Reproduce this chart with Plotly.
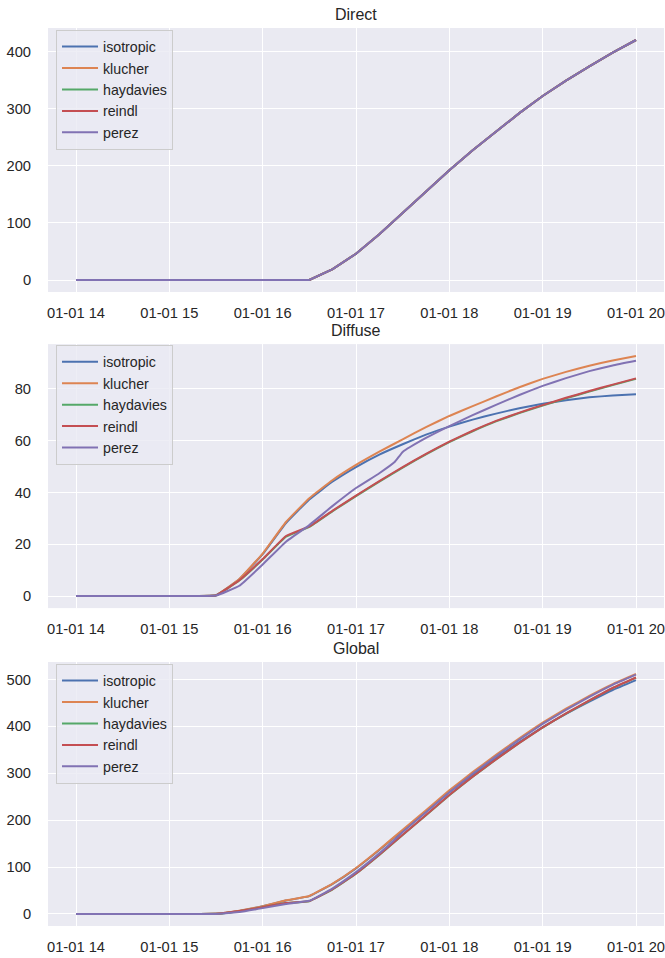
import plotly.graph_objects as go

# Sample times (15-minute steps) on 1 January
clock = ["14:00", "14:15", "14:30", "14:45", "15:00", "15:15", "15:30", "15:45",
         "16:00", "16:15", "16:30", "16:45", "17:00", "17:15", "17:30", "17:45",
         "18:00", "18:15", "18:30", "18:45", "19:00", "19:15", "19:30", "19:45", "20:00"]
# The perez series has one extra sample where its diffuse component jumps
perez_clock = clock[:14] + ["17:25"] + clock[14:]

models = ["isotropic", "klucher", "haydavies", "reindl", "perez"]
colors = ["#4C72B0", "#DD8452", "#55A868", "#C44E52", "#8172B3"]

# Direct (beam) component on the plane of array, identical for every model
direct = [0, 0, 0, 0, 0, 0, 0, 0, 0, 0, 0, 19, 46, 80, 117, 154,
          192, 227, 260, 292, 322, 349, 374, 398, 420]
direct_perez = [0, 0, 0, 0, 0, 0, 0, 0, 0, 0, 0, 19, 46, 80, 105, 117, 154,
                192, 227, 260, 292, 322, 349, 374, 398, 420]

# Sky diffuse component per transposition model
diffuse_isotropic = [0, 0, 0, 0, 0, 0, 0.3, 6.5, 16.2, 28.2, 37.3, 44.2, 49.8, 54.6,
                     58.6, 62.3, 65.4, 68.1, 70.4, 72.5, 74.2, 75.6, 76.7, 77.4, 77.9]
diffuse_klucher = [0, 0, 0, 0, 0, 0, 0.3, 6.6, 16.4, 28.6, 37.8, 44.8, 50.6, 55.7,
                   60.5, 65.2, 69.5, 73.3, 77.0, 80.6, 83.8, 86.5, 88.9, 90.9, 92.6]
diffuse_haydavies = [0, 0, 0, 0, 0, 0, 0.3, 6.0, 14.1, 22.9, 26.7, 32.8, 38.6, 44.2,
                     49.6, 54.7, 59.4, 63.6, 67.4, 70.6, 73.5, 76.3, 78.9, 81.4, 83.8]
diffuse_reindl = [0, 0, 0, 0, 0, 0, 0.3, 6.1, 14.3, 23.2, 26.9, 33.0, 38.8, 44.4,
                  49.8, 54.9, 59.6, 63.8, 67.6, 70.8, 73.7, 76.5, 79.1, 81.6, 84.0]
diffuse_perez = [0, 0, 0, 0, 0, 0, 0.2, 4.0, 12.2, 21.0, 27.4, 34.8, 41.7, 47.4,
                 51.8, 55.6, 61.0, 65.6, 69.8, 73.8, 77.6, 81.1, 84.1, 86.8, 89.0, 90.8]

# Global (total) irradiance on the plane of array
global_isotropic = [0, 0, 0, 0, 0, 0, 0.3, 6.6, 16.5, 28.7, 38.0, 64.2, 97.3, 136.4,
                    177.6, 218.3, 259.4, 297.1, 332.4, 366.5, 398.2, 426.6, 452.7, 477.4, 498.5]
global_klucher = [0, 0, 0, 0, 0, 0, 0.3, 6.7, 16.7, 29.1, 38.5, 64.8, 98.1, 137.5,
                  179.5, 221.2, 263.5, 302.3, 339.0, 374.6, 407.8, 437.5, 464.9, 490.0, 511.5]
global_haydavies = [0, 0, 0, 0, 0, 0, 0.3, 6.1, 14.3, 23.3, 27.3, 52.7, 86.0, 125.9,
                    168.5, 210.6, 253.3, 292.5, 329.3, 364.5, 397.4, 427.2, 454.8, 481.2, 503.6]
global_reindl = [0, 0, 0, 0, 0, 0, 0.3, 6.2, 14.5, 23.6, 27.5, 53.0, 86.3, 126.2,
                 168.8, 210.9, 253.6, 292.8, 329.6, 364.8, 397.7, 427.5, 455.1, 481.6, 504.0]
global_perez = [0, 0, 0, 0, 0, 0, 0.2, 4.1, 12.5, 21.5, 28.1, 54.8, 89.2, 129.2,
                158.8, 174.6, 217.0, 259.6, 298.8, 335.8, 371.6, 405.1, 435.1, 462.8, 488.5, 510.0]

day = "2019-01-01 "
times = [day + t for t in clock]
perez_times = [day + t for t in perez_clock]
hour_ticks = [day + h for h in ["14:00", "15:00", "16:00", "17:00", "18:00", "19:00", "20:00"]]

# title, series, y tick step, line smoothing (0 = straight segments)
panels = [
    ("Direct", [direct, direct, direct, direct, direct_perez], 100, 0),
    ("Diffuse", [diffuse_isotropic, diffuse_klucher, diffuse_haydavies,
                 diffuse_reindl, diffuse_perez], 20, 0.3),
    ("Global", [global_isotropic, global_klucher, global_haydavies,
                global_reindl, global_perez], 100, 0.3),
]

# vertical domains of the three stacked axes (paper fractions)
domains = [(0.706, 1.0), (0.354, 0.648), (0.0, 0.294)]
legend_tops = [0.998, 0.647, 0.292]

FONT = "Arial, Liberation Sans, sans-serif"
TEXT = "#262626"
BG = "#EAEAF2"

fig = go.Figure()
layout = dict(
    width=665, height=958,
    margin=dict(l=48, r=1, t=28, b=32),
    paper_bgcolor="white", plot_bgcolor=BG,
    font=dict(family=FONT, size=14.7, color=TEXT),
    annotations=[],
)

for i, (title, series, step, smooth) in enumerate(panels):
    n = i + 1
    xa = "x" if n == 1 else f"x{n}"
    ya = "y" if n == 1 else f"y{n}"
    leg = "legend" if n == 1 else f"legend{n}"
    line_style = dict(width=2)
    if smooth:
        line_style.update(shape="spline", smoothing=smooth)
    for name, color, vals in zip(models, colors, series):
        xs = perez_times if name == "perez" else times
        fig.add_trace(go.Scatter(
            x=xs, y=vals, mode="lines", name=name,
            line=dict(color=color, **line_style),
            xaxis=xa, yaxis=ya, legend=leg,
        ))
    lo = min(min(s) for s in series)
    hi = max(max(s) for s in series)
    pad = 0.05 * (hi - lo)

    ax_key = "xaxis" if n == 1 else f"xaxis{n}"
    ay_key = "yaxis" if n == 1 else f"yaxis{n}"
    layout[ax_key] = dict(
        domain=[0, 1], anchor=ya, type="date",
        range=[day + "13:42", day + "20:18"],
        tickvals=hour_ticks, tickformat="%m-%d %H",
        showgrid=True, gridcolor="white", gridwidth=1.3,
        zeroline=False, showline=False,
        ticks="outside", ticklen=7, tickcolor="rgba(0,0,0,0)",
        tickfont=dict(family=FONT, size=14.7, color=TEXT),
    )
    layout[ay_key] = dict(
        domain=list(domains[i]), anchor=xa,
        range=[lo - pad, hi + pad], dtick=step, tick0=0,
        showgrid=True, gridcolor="white", gridwidth=1.3,
        zeroline=False, showline=False,
        ticks="outside", ticklen=13, tickcolor="rgba(0,0,0,0)",
        tickfont=dict(family=FONT, size=14.7, color=TEXT),
    )
    layout[leg] = dict(
        x=0.013, y=legend_tops[i], xanchor="left", yanchor="top",
        bgcolor="rgba(234,234,242,0.8)", bordercolor="#CCCCCC", borderwidth=1,
        font=dict(family=FONT, size=14.2, color=TEXT),
        tracegroupgap=0, itemwidth=36,
    )
    layout["annotations"].append(dict(
        text=title, xref="paper", yref="paper", x=0.5, y=domains[i][1],
        xanchor="center", yanchor="bottom", showarrow=False, yshift=3,
        font=dict(family=FONT, size=16, color=TEXT),
    ))

fig.update_layout(**layout)
fig.write_html("out.html")
